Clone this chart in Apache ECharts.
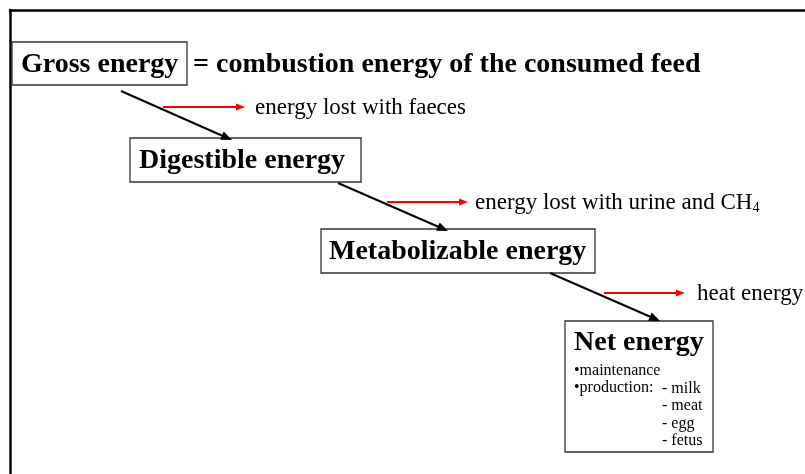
<!DOCTYPE html>
<html>
<head>
<meta charset="utf-8">
<script src="https://cdn.jsdelivr.net/npm/echarts@6/dist/echarts.min.js"></script>
<style>
  html, body { margin: 0; padding: 0; background: #fff; }
  #main { width: 805px; height: 474px; }
</style>
</head>
<body>
<div id="main"></div>
<script>
// diagram content
const stages = ['Gross energy', 'Digestible energy', 'Metabolizable energy', 'Net energy'];
const definition = '= combustion energy of the consumed feed';
const losses = ['energy lost with faeces', 'energy lost with urine and CH{sub|4}', 'heat energy'];
const netUses = ['•maintenance', '•production:'];
const productionItems = ['- milk', '- meat', '- egg', '- fetus'];

// layout, in diagram units (x0, y0, x1, y1)
const stageBox = [[12, 42, 187, 85], [130, 138, 361, 182], [321, 229, 595, 273], [565, 321, 713, 452]];
const stageTextAt = [[21, 65], [139, 161], [329, 252], [574, 343]];
const definitionAt = [193, 65];
const flowArrows = [[121, 91, 232, 140], [338, 183, 448, 231], [550, 273, 660, 321]];
const lossArrows = [[163, 107, 245, 107], [387, 202, 468, 202], [604, 293, 685, 293]];
const lossTextAt = [[255, 108], [475, 203], [697, 294]];
const netUsesAt = [574, 371];
const productionAt = [662, 389];
const lineStep = 17.2;

const serif = '"Liberation Serif", "Times New Roman", serif';

function arrow(api, v, color, width, headLen, headHalf) {
  const a = api.coord([v[0], v[1]]);
  const b = api.coord([v[2], v[3]]);
  const dx = b[0] - a[0], dy = b[1] - a[1];
  const L = Math.hypot(dx, dy), ux = dx / L, uy = dy / L;
  const base = [b[0] - ux * headLen, b[1] - uy * headLen];
  return [
    {type: 'line', shape: {x1: a[0], y1: a[1], x2: base[0] + ux, y2: base[1] + uy},
      style: {stroke: color, lineWidth: width}},
    {type: 'polygon', shape: {points: [b,
      [base[0] - uy * headHalf, base[1] + ux * headHalf],
      [base[0] + uy * headHalf, base[1] - ux * headHalf]]},
      style: {fill: color}}
  ];
}

const chart = echarts.init(document.getElementById('main'));

const option = {
  animation: false,
  backgroundColor: '#fff',
  grid: {left: 10, top: 10, right: 0, bottom: 0},
  xAxis: {
    type: 'value', min: 10, max: 805, position: 'top',
    axisLine: {show: true, onZero: false, lineStyle: {color: '#000', width: 2.5}},
    axisTick: {show: false}, axisLabel: {show: false}, splitLine: {show: false}
  },
  yAxis: {
    type: 'value', min: 10, max: 474, inverse: true,
    axisLine: {show: true, onZero: false, lineStyle: {color: '#000', width: 2.5}},
    axisTick: {show: false}, axisLabel: {show: false}, splitLine: {show: false}
  },
  series: [
    {
      // stage boxes
      type: 'custom', z: 2,
      data: stages.map((s, i) => ({name: s, value: stageBox[i].concat(stageTextAt[i])})),
      renderItem: (params, api) => {
        const p0 = api.coord([api.value(0), api.value(1)]);
        const p1 = api.coord([api.value(2), api.value(3)]);
        const t = api.coord([api.value(4), api.value(5)]);
        return {
          type: 'group',
          children: [
            {type: 'rect', shape: {x: p0[0], y: p0[1], width: p1[0] - p0[0], height: p1[1] - p0[1]},
              style: {fill: '#fff', stroke: '#333', lineWidth: 1.3}},
            {type: 'text', style: {x: t[0], y: t[1], text: stages[params.dataIndex],
              fontFamily: serif, fontWeight: 'bold', fontSize: 28, fill: '#000',
              align: 'left', verticalAlign: 'middle'}}
          ]
        };
      }
    },
    {
      // definition of gross energy
      type: 'custom', z: 3,
      data: [definitionAt],
      renderItem: (params, api) => {
        const t = api.coord([api.value(0), api.value(1)]);
        return {type: 'text', style: {x: t[0], y: t[1], text: definition,
          fontFamily: serif, fontWeight: 'bold', fontSize: 28, fill: '#000',
          align: 'left', verticalAlign: 'middle'}};
      }
    },
    {
      // flow from one stage to the next
      type: 'custom', z: 4,
      data: flowArrows,
      renderItem: (params, api) => ({
        type: 'group',
        children: arrow(api, [0, 1, 2, 3].map(k => api.value(k)), '#000', 2, 11, 4.5)
      })
    },
    {
      // losses
      type: 'custom', z: 5,
      data: losses.map((s, i) => ({name: s, value: lossArrows[i].concat(lossTextAt[i])})),
      renderItem: (params, api) => {
        const t = api.coord([api.value(4), api.value(5)]);
        const kids = arrow(api, [0, 1, 2, 3].map(k => api.value(k)), '#ff0000', 2, 9, 3.5);
        kids.push({type: 'text', style: {x: t[0], y: t[1], text: losses[params.dataIndex],
          fontFamily: serif, fontSize: 23, fill: '#000', lineHeight: 24,
          align: 'left', verticalAlign: 'middle',
          rich: {sub: {fontFamily: serif, fontSize: 14, lineHeight: 14, verticalAlign: 'bottom', fill: '#000'}}}});
        return {type: 'group', children: kids};
      }
    },
    {
      // net energy uses
      type: 'custom', z: 6,
      data: netUses.map((s, i) => [netUsesAt[0], netUsesAt[1] + i * lineStep]),
      renderItem: (params, api) => {
        const t = api.coord([api.value(0), api.value(1)]);
        return {type: 'text', style: {x: t[0], y: t[1], text: netUses[params.dataIndex],
          fontFamily: serif, fontSize: 16, fill: '#000', align: 'left', verticalAlign: 'middle'}};
      }
    },
    {
      type: 'custom', z: 6,
      data: productionItems.map((s, i) => [productionAt[0], productionAt[1] + i * lineStep]),
      renderItem: (params, api) => {
        const t = api.coord([api.value(0), api.value(1)]);
        return {type: 'text', style: {x: t[0], y: t[1], text: productionItems[params.dataIndex],
          fontFamily: serif, fontSize: 16, fill: '#000', align: 'left', verticalAlign: 'middle'}};
      }
    }
  ]
};

chart.setOption(option);
</script>
</body>
</html>
